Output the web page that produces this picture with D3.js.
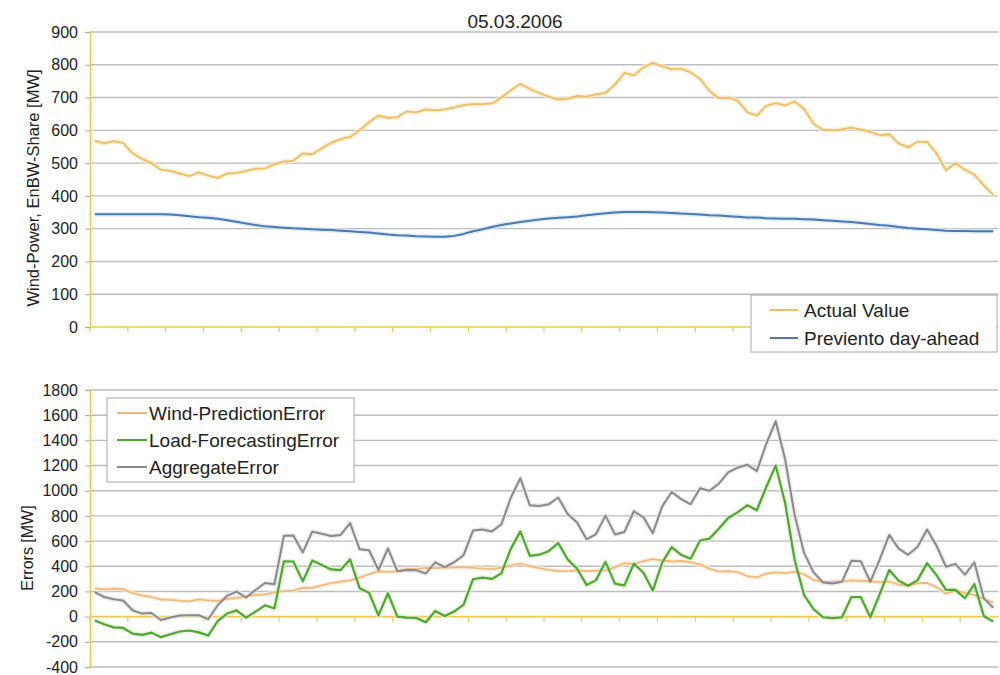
<!DOCTYPE html>
<html><head><meta charset="utf-8">
<script src="https://cdn.jsdelivr.net/npm/d3@7"></script>
<style>
body{margin:0;background:#fff;}
svg{display:block;font-family:"Liberation Sans",Arial,sans-serif;}
</style>
</head><body>
<svg id="c" width="1000" height="675"></svg>
<script>
const timeSlots = ("00:00 00:15 00:30 00:45 01:00 01:15 01:30 01:45 02:00 02:15 02:30 02:45 " +
 "03:00 03:15 03:30 03:45 04:00 04:15 04:30 04:45 05:00 05:15 05:30 05:45 " +
 "06:00 06:15 06:30 06:45 07:00 07:15 07:30 07:45 08:00 08:15 08:30 08:45 " +
 "09:00 09:15 09:30 09:45 10:00 10:15 10:30 10:45 11:00 11:15 11:30 11:45 " +
 "12:00 12:15 12:30 12:45 13:00 13:15 13:30 13:45 14:00 14:15 14:30 14:45 " +
 "15:00 15:15 15:30 15:45 16:00 16:15 16:30 16:45 17:00 17:15 17:30 17:45 " +
 "18:00 18:15 18:30 18:45 19:00 19:15 19:30 19:45 20:00 20:15 20:30 20:45 " +
 "21:00 21:15 21:30 21:45 22:00 22:15 22:30 22:45 23:00 23:15 23:30 23:45").split(" ");

const actualValue = [568,560,567,562,530,513,500,480,476,468,460,472,462,455,468,470,476,483,484,497,
 505,507,530,527,545,562,573,580,600,625,645,638,640,658,655,664,661,664,670,677,
 680,680,682,700,722,742,726,714,703,694,696,705,703,710,714,740,775,768,792,806,
 795,786,788,777,757,720,698,700,690,655,645,675,683,676,688,665,620,602,600,603,
 608,602,595,585,588,560,548,565,565,530,478,500,480,465,432,403];

const previento = [344,344,344,344,344,344,344,344,343,341,338,335,333,330,326,321,316,311,307,305,
 303,301,300,298,297,296,294,292,290,288,285,282,280,279,277,276,275,275,278,284,
 292,298,305,311,316,320,324,328,331,333,335,337,341,344,347,349,351,351,351,350,
 349,348,346,345,343,341,340,338,336,334,334,332,331,330,330,329,328,326,324,322,
 320,317,314,311,309,305,302,300,298,296,294,293,293,292,292,292];

const windError = [224,216,223,218,186,169,156,136,133,127,122,137,129,125,142,149,160,172,177,192,
 202,206,230,229,248,266,279,288,310,337,360,356,360,379,378,388,386,389,392,393,
 388,382,377,389,406,422,402,386,372,361,361,368,362,366,367,391,424,417,441,456,
 446,438,442,432,414,379,358,362,354,321,311,343,352,346,358,336,292,276,276,281,
 288,285,281,274,279,255,246,265,267,234,184,207,187,173,140,111];

const loadError = [-30,-60,-85,-90,-135,-145,-127,-163,-140,-118,-110,-125,-150,-35,25,50,-8,40,90,65,
 440,438,280,446,410,375,370,455,226,190,10,186,0,-8,-10,-45,45,5,40,95,
 297,310,300,345,540,677,483,492,520,585,455,380,252,290,435,262,248,420,350,207,
 430,552,491,460,605,620,700,785,830,885,845,1030,1200,900,450,170,60,-5,-12,-5,
 155,155,-5,180,370,285,245,290,425,330,212,212,146,258,5,-40];

const aggregateError = [194,156,138,128,51,24,29,-27,-7,9,12,12,-21,90,167,199,152,212,267,257,
 642,644,510,675,658,641,649,743,536,527,370,542,360,371,368,343,431,394,432,488,
 685,692,677,734,946,1099,885,878,892,946,816,748,614,656,802,653,672,837,791,663,
 876,990,933,892,1019,999,1058,1147,1184,1206,1156,1373,1552,1246,808,506,352,271,264,276,
 443,440,276,454,649,540,491,555,692,564,396,419,333,431,145,71];

const topTicks = [0,100,200,300,400,500,600,700,800,900];
const bottomTicks = [-400,-200,0,200,400,600,800,1000,1200,1400,1600,1800];

const topSeries = [
  {name:"Actual Value", values:actualValue, color:"#f0bd62", halo:"#fbe9c4", width:1.8},
  {name:"Previento day-ahead", values:previento, color:"#4a78b2", halo:"#d3e6f7", width:2}
];
const bottomSeries = [
  {name:"Wind-PredictionError", values:windError, color:"#f3b97c", halo:"#fcebd6", width:1.8},
  {name:"Load-ForecastingError", values:loadError, color:"#4ea72e", halo:"#dff0d4", width:2.2},
  {name:"AggregateError", values:aggregateError, color:"#8a8a8a", halo:"#e6e6e6", width:2}
];

const svg = d3.select("#c");
const axisColor = "#f2c84e";
const gridColor = "#bdbdbd";
const textColor = "#222";

const x = d3.scaleBand().domain(timeSlots).range([90, 998]);
const cx = d => x(d) + x.bandwidth()/2;

function panel(yDomain, yRange, ticks, series, yLabel, labelPos, labelSize) {
  const y = d3.scaleLinear().domain(yDomain).range(yRange);
  const g = svg.append("g");
  g.selectAll(".grid").data(ticks.filter(t => t !== 0)).join("line")
    .attr("x1", 90).attr("x2", 998)
    .attr("y1", d => y(d)).attr("y2", d => y(d))
    .attr("stroke", gridColor).attr("stroke-width", 1.4);
  const ax = g.append("g").attr("transform", "translate(90,0)")
    .call(d3.axisLeft(y).tickValues(ticks).tickFormat(d => String(d)).tickSize(5).tickPadding(7));
  ax.select(".domain").attr("stroke", axisColor).attr("stroke-width", 1.6);
  ax.selectAll(".tick line").attr("stroke", "#aaa");
  ax.selectAll(".tick text").attr("fill", textColor).style("font-size", "16px");
  g.append("line").attr("x1", 90).attr("x2", 998).attr("y1", y(0)).attr("y2", y(0))
    .attr("stroke", axisColor).attr("stroke-width", 1.6);
  const hourSlots = timeSlots.filter((d, i) => i % 4 === 0);
  g.selectAll(".xt").data(hourSlots).join("line")
    .attr("x1", d => x(d)).attr("x2", d => x(d))
    .attr("y1", y(0)).attr("y2", y(0) + 5)
    .attr("stroke", axisColor).attr("stroke-width", 1.2);
  const line = d3.line().x((v, i) => cx(timeSlots[i])).y(v => y(v));
  series.forEach(s => {
    g.append("path").datum(s.values).attr("d", line)
      .attr("fill", "none").attr("stroke", s.halo).attr("stroke-width", s.width + 3)
      .attr("stroke-linejoin", "round").attr("opacity", 0.7);
  });
  series.forEach(s => {
    g.append("path").datum(s.values).attr("d", line)
      .attr("fill", "none").attr("stroke", s.color).attr("stroke-width", s.width)
      .attr("stroke-linejoin", "round");
  });
  svg.append("text").attr("transform", `translate(${labelPos[0]},${labelPos[1]}) rotate(-90)`)
    .attr("text-anchor", "middle").attr("dominant-baseline", "central")
    .attr("fill", textColor).style("font-size", labelSize + "px").text(yLabel);
  return y;
}

panel([0, 900], [327, 32], topTicks, topSeries, "Wind-Power, EnBW-Share [MW]", [33, 188], 16.5);
panel([-400, 1800], [667, 390], bottomTicks, bottomSeries, "Errors [MW]", [27, 548], 16);

svg.append("text").attr("x", 515).attr("y", 28).attr("text-anchor", "middle")
  .attr("fill", textColor).style("font-size", "19px").text("05.03.2006");

function legend(x0, y0, w, h, series, rowY, lineX, textX) {
  const g = svg.append("g");
  g.append("rect").attr("x", x0).attr("y", y0).attr("width", w).attr("height", h)
    .attr("fill", "#fff").attr("stroke", "#a8a8a8").attr("stroke-width", 1);
  series.forEach((s, i) => {
    g.append("line").attr("x1", lineX[0]).attr("x2", lineX[1])
      .attr("y1", rowY[i]).attr("y2", rowY[i]).attr("stroke", s.color).attr("stroke-width", 2);
    g.append("text").attr("x", textX).attr("y", rowY[i]).attr("dominant-baseline", "central")
      .attr("fill", textColor).style("font-size", "19px").text(s.name);
  });
}
legend(751, 295, 246, 57, topSeries, [310, 338], [770, 798], 804);
legend(107, 398, 247, 84, bottomSeries, [413, 440, 467], [117, 147], 149);
</script>
</body></html>
